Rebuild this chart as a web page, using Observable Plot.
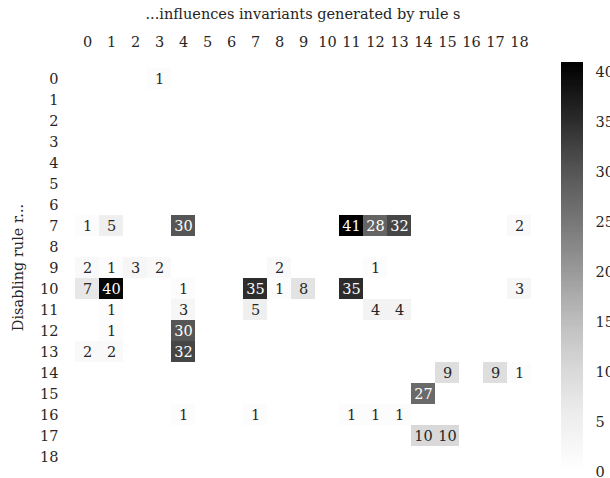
<!DOCTYPE html>
<html>
<head>
<meta charset="utf-8">
<script src="https://cdn.jsdelivr.net/npm/d3@7"></script>
<script src="https://cdn.jsdelivr.net/npm/@observablehq/plot@0.6"></script>
<style>
  html, body { margin: 0; padding: 0; background: #fff; overflow: hidden; }
  #wrap { position: relative; width: 610px; height: 478px; }
  #wrap > svg, #wrap > figure { position: absolute; top: 0; margin: 0; }
</style>
</head>
<body>
<div id="wrap"></div>
<script>
// Rule indices (tick labels for both axes)
const rules = d3.range(0, 19);

// Non-zero cells: disabling rule r (row), influenced rule s (column), count
const rowR = [0, 7,7,7,7,7,7,7, 9,9,9,9,9,9, 10,10,10,10,10,10,10,10, 11,11,11,11,11, 12,12, 13,13,13, 14,14,14, 15, 16,16,16,16,16, 17,17];
const colS = [3, 0,1,4,11,12,13,18, 0,1,2,3,8,12, 0,1,4,7,8,9,11,18, 1,4,7,12,13, 1,4, 0,1,4, 15,17,18, 14, 4,7,11,12,13, 14,15];
const counts = [1, 1,5,30,41,28,32,2, 2,1,3,2,2,1, 7,40,1,35,1,8,35,3, 1,3,5,4,4, 1,30, 2,2,32, 9,9,1, 27, 1,1,1,1,1, 10,10];

// Colorbar ticks
const cbarTicks = [0, 5, 10, 15, 20, 25, 30, 35, 40];
const cmax = 41;

const cells = counts.map((v, i) => ({r: rowR[i], s: colS[i], v}));

const fs = 14.5;
const font = {fontFamily: "DejaVu Serif", fontSize: fs + "px", background: "transparent", color: "#222"};
const colorScale = {type: "linear", scheme: "greys", domain: [0, cmax]};

const main = Plot.plot({
  width: 610,
  height: 478,
  marginLeft: 72,
  marginRight: 77,
  marginTop: 62,
  marginBottom: 6,
  style: font,
  x: {type: "band", domain: rules, padding: 0},
  y: {type: "band", domain: rules, padding: 0},
  color: colorScale,
  marks: [
    Plot.cell(cells, {x: "s", y: "r", fill: "v", inset: 0, shapeRendering: "crispEdges"}),
    Plot.text(cells, {x: "s", y: "r", text: d => String(d.v), fill: d => d.v > 20 ? "white" : "#262626", fontSize: fs}),
    Plot.axisX({anchor: "top", tickSize: 0, tickPadding: 16, label: "...influences invariants generated by rule s", labelAnchor: "center", labelOffset: 54, fill: "#262626"}),
    Plot.axisY({anchor: "left", tickSize: 0, tickPadding: 14, label: "Disabling rule r...", labelAnchor: "center", labelOffset: 60, fill: "#262626"})
  ]
});

const step = 0.25;
const grad = d3.range(0, cmax, step);
const cbar = Plot.plot({
  width: 60,
  height: 478,
  marginLeft: 11,
  marginRight: 27,
  marginTop: 62,
  marginBottom: 6,
  style: font,
  x: {axis: null, domain: [0, 1]},
  y: {domain: [0, cmax]},
  color: colorScale,
  marks: [
    Plot.rect(grad, {x1: 0, x2: 1, y1: d => d, y2: d => Math.min(cmax, d + step * 1.5), fill: d => d + step / 2, shapeRendering: "crispEdges"}),
    Plot.axisY({anchor: "right", ticks: cbarTicks, tickSize: 0, tickPadding: 12, label: null, fill: "#262626"})
  ]
});

const wrap = document.getElementById("wrap");
main.style.left = "0px";
cbar.style.left = "550px";
wrap.appendChild(main);
wrap.appendChild(cbar);
</script>
</body>
</html>
